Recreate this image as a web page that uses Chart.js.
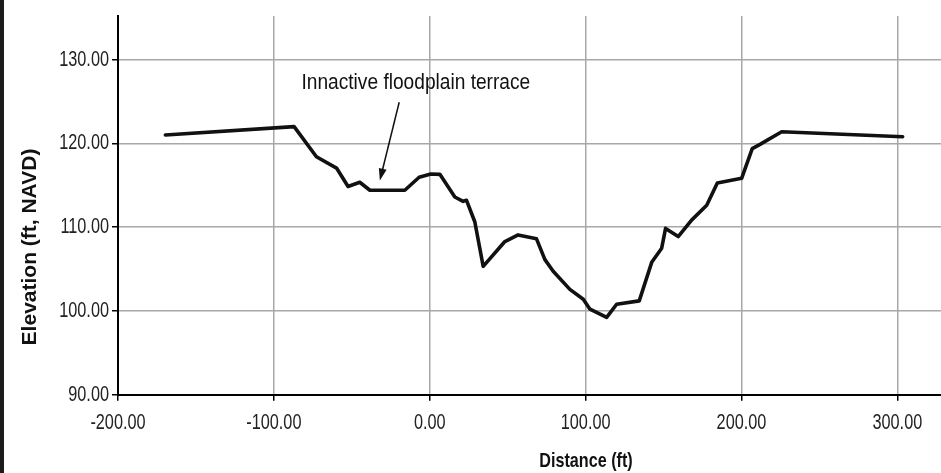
<!DOCTYPE html>
<html>
<head>
<meta charset="utf-8">
<script src="https://cdn.jsdelivr.net/npm/chart.js@4/dist/chart.umd.min.js"></script>
<style>
  html, body { margin: 0; padding: 0; background: #fff; }
  #wrap { width: 941px; height: 473px; position: relative; }
</style>
</head>
<body>
<div id="wrap"><canvas id="profileChart"></canvas></div>
<script>
// cross section
const distance = [-169.6, -87.0, -72.7, -59.8, -52.4, -44.9, -38.4, -16.0, -6.8, 0.7, 6.5,
  16.1, 21.4, 23.6, 28.9, 34.3, 48.2, 56.7, 68.5, 73.9, 79.2, 89.9, 98.5, 102.8,
  113.5, 119.9, 134.4, 142.4, 148.8, 151.3, 159.4, 168.0, 177.7, 184.5, 200.1,
  206.9, 211.9, 225.8, 303.4];
const elevation = [121.0, 122.0, 118.4, 117.05, 114.85, 115.36, 114.4, 114.4, 115.95, 116.34, 116.3,
  113.6, 113.08, 113.2, 110.64, 105.32, 108.28, 109.07, 108.6, 106.12, 104.73, 102.57, 101.39, 100.21,
  99.22, 100.8, 101.2, 105.8, 107.49, 109.85, 108.87, 110.84, 112.61, 115.28, 115.83,
  119.37, 119.88, 121.38, 120.79];

const xTicks = [-200, -100, 0, 100, 200, 300];
const yTicks = [90, 100, 110, 120, 130];

const noteText = 'Innactive floodplain terrace';

let points = distance.map((d, i) => ({ x: d, y: elevation[i] }));

// the original uses a narrow face, so squeeze the text sideways
const squeezedText = (c, txt, x, y, sx) => {
  c.save();
  c.translate(x, y);
  c.scale(sx, 1);
  c.fillText(txt, 0, 0);
  c.restore();
};

const extras = {
  id: 'extras',
  beforeDraw(chart) {
    const c = chart.ctx;
    c.save();
    c.fillStyle = '#fff';
    c.fillRect(0, 0, chart.width, chart.height);
    c.fillStyle = '#1c1c1c';
    c.fillRect(0, 0, 4, chart.height);
    c.restore();
  },
  afterDraw(chart) {
    const c = chart.ctx;
    const xs = chart.scales.x, ys = chart.scales.y;

    // tick labels, at the positions the scales give
    c.save();
    c.fillStyle = '#222';
    c.font = "22px 'Liberation Sans', Arial, sans-serif";
    c.textBaseline = 'middle';
    c.textAlign = 'center';
    xs.ticks.forEach((t, i) => {
      squeezedText(c, t.value.toFixed(2), xs.getPixelForTick(i), 423, 0.74);
    });
    c.textAlign = 'right';
    ys.ticks.forEach((t, i) => {
      squeezedText(c, t.value.toFixed(2), 109, ys.getPixelForTick(i), 0.74);
    });

    // axis titles
    c.fillStyle = '#111';
    c.textAlign = 'center';
    c.font = "bold 21px 'Liberation Sans', Arial, sans-serif";
    squeezedText(c, 'Distance (ft)', 586, 461, 0.77);
    c.translate(30, 247);
    c.rotate(-Math.PI / 2);
    c.fillText('Elevation (ft, NAVD)', 0, 0);
    c.restore();

    // annotation
    c.save();
    c.fillStyle = '#111';
    c.font = "22px 'Liberation Sans', Arial, sans-serif";
    c.textAlign = 'left';
    c.textBaseline = 'alphabetic';
    squeezedText(c, noteText, xs.getPixelForValue(-82.3), ys.getPixelForValue(126.5), 0.87);
    const x1 = xs.getPixelForValue(-19.6), y1 = ys.getPixelForValue(124.9);
    const x2 = xs.getPixelForValue(-32.0), y2 = ys.getPixelForValue(115.56);
    const ang = Math.atan2(y2 - y1, x2 - x1);
    c.strokeStyle = '#111';
    c.lineWidth = 1.5;
    c.beginPath();
    c.moveTo(x1, y1);
    c.lineTo(x2 - 8 * Math.cos(ang), y2 - 8 * Math.sin(ang));
    c.stroke();
    c.beginPath();
    c.moveTo(x2, y2);
    c.lineTo(x2 - 12 * Math.cos(ang) + 4 * Math.sin(ang), y2 - 12 * Math.sin(ang) - 4 * Math.cos(ang));
    c.lineTo(x2 - 12 * Math.cos(ang) - 4 * Math.sin(ang), y2 - 12 * Math.sin(ang) + 4 * Math.cos(ang));
    c.closePath();
    c.fill();
    c.restore();
  }
};

const ctx = document.getElementById('profileChart').getContext('2d');
const chart = new Chart(ctx, {
  type: 'scatter',
  data: {
    datasets: [{
      label: 'Ground',
      data: points,
      showLine: true,
      borderColor: '#111',
      borderWidth: 3.6,
      borderJoinStyle: 'round',
      borderCapStyle: 'round',
      pointRadius: 0,
      tension: 0,
      fill: false
    }]
  },
  options: {
    responsive: true,
    maintainAspectRatio: false,
    animation: false,
    layout: { padding: { top: 12, left: 0, right: 0, bottom: 0 } },
    plugins: {
      legend: { display: false },
      tooltip: { enabled: false }
    },
    scales: {
      x: {
        type: 'linear',
        min: -200,
        max: 328,
        afterBuildTicks: (s) => { s.ticks = xTicks.map(v => ({ value: v })); },
        afterFit: (s) => { s.height = 78.3; },
        ticks: {
          color: 'rgba(0,0,0,0)',
          font: { size: 20 },
          padding: 8,
          maxRotation: 0,
          callback: (v) => v.toFixed(2)
        },
        grid: { color: '#a8a8a8', lineWidth: 1.5, tickColor: '#000', tickLength: 6 },
        border: { color: '#000', width: 2 }
      },
      y: {
        type: 'linear',
        min: 90,
        max: 135.2,
        afterBuildTicks: (s) => { s.ticks = yTicks.map(v => ({ value: v })); },
        afterFit: (s) => { s.width = 118; },
        ticks: {
          color: 'rgba(0,0,0,0)',
          font: { size: 20 },
          padding: 4,
          callback: (v) => v.toFixed(2)
        },
        grid: { color: '#a8a8a8', lineWidth: 1.5, tickColor: '#000', tickLength: 6 },
        border: { color: '#000', width: 2 }
      }
    }
  },
  plugins: [extras]
});
</script>
</body>
</html>
